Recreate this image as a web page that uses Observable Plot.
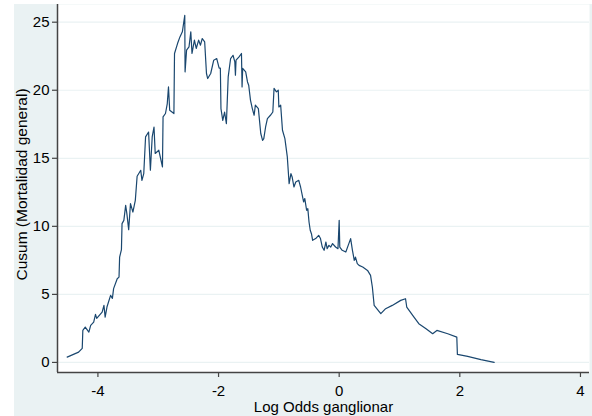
<!DOCTYPE html>
<html>
<head>
<meta charset="utf-8">
<script src="https://cdn.jsdelivr.net/npm/d3@7"></script>
<script src="https://cdn.jsdelivr.net/npm/@observablehq/plot@0.6"></script>
<style>
  html, body { margin: 0; padding: 0; background: #ffffff; }
  #chart svg { display: block; }
</style>
</head>
<body>
<div id="chart"></div>
<script>
const logOdds = [
  -4.51, -4.32, -4.26, -4.25, -4.21, -4.15, -4.12, -4.07, -4.04, -4.02,
  -3.93, -3.90, -3.88, -3.85, -3.79, -3.76, -3.74, -3.68, -3.65, -3.64,
  -3.61, -3.60, -3.57, -3.54, -3.52, -3.49, -3.46, -3.42, -3.38, -3.35,
  -3.29, -3.27, -3.24, -3.21, -3.16, -3.13, -3.10, -3.07, -3.05, -2.99,
  -2.93, -2.92, -2.88, -2.85, -2.83, -2.81, -2.74, -2.73, -2.68, -2.64,
  -2.60, -2.56, -2.555, -2.53, -2.49, -2.46, -2.44, -2.40, -2.37, -2.33,
  -2.30, -2.27, -2.23, -2.20, -2.18, -2.13, -2.08, -2.03, -1.99, -1.97,
  -1.96, -1.93, -1.90, -1.87, -1.84, -1.80, -1.76, -1.73, -1.72, -1.71,
  -1.66, -1.62, -1.61, -1.60, -1.55, -1.52, -1.50, -1.47, -1.44, -1.41,
  -1.39, -1.34, -1.30, -1.27, -1.25, -1.22, -1.19, -1.14, -1.10, -1.08,
  -1.04, -1.01, -1.00, -0.97, -0.94, -0.90, -0.86, -0.83, -0.80, -0.78,
  -0.75, -0.72, -0.67, -0.64, -0.59, -0.57, -0.54, -0.52, -0.50, -0.48,
  -0.46, -0.44, -0.39, -0.34, -0.31, -0.28, -0.25, -0.22, -0.20, -0.17,
  -0.14, -0.11, -0.06, -0.02, 0.00, 0.01, 0.05, 0.11, 0.16, 0.19,
  0.22, 0.25, 0.27, 0.30, 0.33, 0.39, 0.47, 0.52, 0.55, 0.58,
  0.69, 0.77, 0.88, 1.02, 1.10, 1.12, 1.24, 1.32, 1.44, 1.55,
  1.62, 1.80, 1.95, 1.96, 2.13, 2.35, 2.57
];
const cusum = [
  0.39, 0.76, 1.03, 2.35, 2.60, 2.23, 2.72, 2.96, 3.53, 3.24,
  3.70, 4.19, 3.33, 4.07, 4.93, 4.71, 5.42, 6.15, 6.27, 7.74,
  8.29, 10.20, 10.44, 11.54, 10.93, 9.76, 11.67, 11.05, 11.91, 13.68,
  14.12, 13.38, 13.87, 16.57, 16.93, 14.12, 16.57, 17.30, 15.35, 15.59,
  14.36, 18.04, 18.29, 19.02, 20.24, 18.53, 18.29, 22.70, 23.43, 23.92,
  24.29, 25.51, 21.35, 22.94, 23.18, 24.29, 22.70, 23.68, 23.07, 23.68,
  23.31, 23.80, 23.55, 21.23, 20.86, 21.23, 22.21, 22.33, 21.62, 21.62,
  18.65, 17.79, 18.40, 17.55, 20.98, 22.33, 22.57, 22.08, 21.10, 22.21,
  22.45, 22.70, 20.24, 21.60, 21.35, 20.61, 20.37, 19.26, 18.65, 18.16,
  18.90, 18.65, 16.82, 16.32, 16.45, 17.30, 17.92, 18.16, 18.40, 20.13,
  19.88, 20.00, 18.77, 18.90, 17.06, 16.45, 15.10, 13.14, 13.87, 13.63,
  12.89, 13.26, 13.38, 12.89, 11.79, 12.04, 11.18, 11.30, 10.32, 9.71,
  9.46, 8.97, 9.10, 9.34, 9.10, 8.48, 8.24, 8.85, 8.36, 8.60,
  8.48, 8.73, 8.48, 8.36, 10.44, 8.48, 8.24, 8.11, 8.73, 9.10,
  8.24, 7.50, 7.74, 7.26, 7.13, 7.01, 6.76, 6.40, 5.54, 4.19,
  3.58, 3.95, 4.19, 4.56, 4.68, 4.07, 3.33, 2.85, 2.48, 2.11,
  2.35, 2.11, 1.86, 0.59, 0.44, 0.20, 0.00
];
const xTicks = [-4, -2, 0, 2, 4];
const yTicks = [0, 5, 10, 15, 20, 25];
const xTitle = "Log Odds ganglionar";
const yTitle = "Cusum (Mortalidad general)";

const xDomain = [-4.67, 4.15];
const yDomain = [-0.74, 26.3];

const data = logOdds.map((x, i) => ({x, y: cusum[i]}));
const axisColor = "#444";
const font = "'Liberation Sans', Arial, Helvetica, sans-serif";

const chart = Plot.plot({
  width: 592,
  height: 416,
  marginLeft: 57,
  marginRight: 3,
  marginTop: 4,
  marginBottom: 44,
  style: {
    fontFamily: font, fontSize: "15px", color: "#000", overflow: "visible",
    background: "linear-gradient(#fff, #fff) 0 0 / 14px 100% no-repeat, linear-gradient(#fff, #fff) 0 0 / 100% 4px no-repeat, #eaf2f3"
  },
  x: {domain: xDomain, ticks: xTicks},
  y: {domain: yDomain, ticks: yTicks},
  marks: [
    Plot.frame({fill: "white", stroke: null}),
    Plot.gridY(yTicks, {stroke: "#eaf2f3", strokeOpacity: 1, strokeWidth: 1.2}),
    Plot.line(data, {x: "x", y: "y", stroke: "#1a476f", strokeWidth: 1.2}),
    Plot.ruleX([xDomain[0]], {stroke: axisColor, strokeWidth: 1.5}),
    Plot.ruleY([yDomain[0]], {stroke: axisColor, strokeWidth: 1.5}),
    Plot.axisY(yTicks, {
      tickSize: 5, tickPadding: 3, stroke: axisColor, strokeWidth: 1.2,
      tickFormat: d => String(d), label: null, fill: "#000", fontSize: 15
    }),
    Plot.axisX(xTicks, {
      tickSize: 5, tickPadding: 8, stroke: axisColor, strokeWidth: 1.2,
      tickFormat: d => String(d), label: null, fill: "#000", fontSize: 15
    }),
    Plot.text([xTitle], {frameAnchor: "bottom", dy: 35, text: d => d, fontSize: 15, fill: "#000", lineAnchor: "middle"}),
    Plot.text([yTitle], {frameAnchor: "left", dx: -35, dy: -4, rotate: -90, text: d => d, fontSize: 15.5, fill: "#000", lineAnchor: "middle", textAnchor: "middle"})
  ]
});
document.getElementById("chart").append(chart);
</script>
</body>
</html>
